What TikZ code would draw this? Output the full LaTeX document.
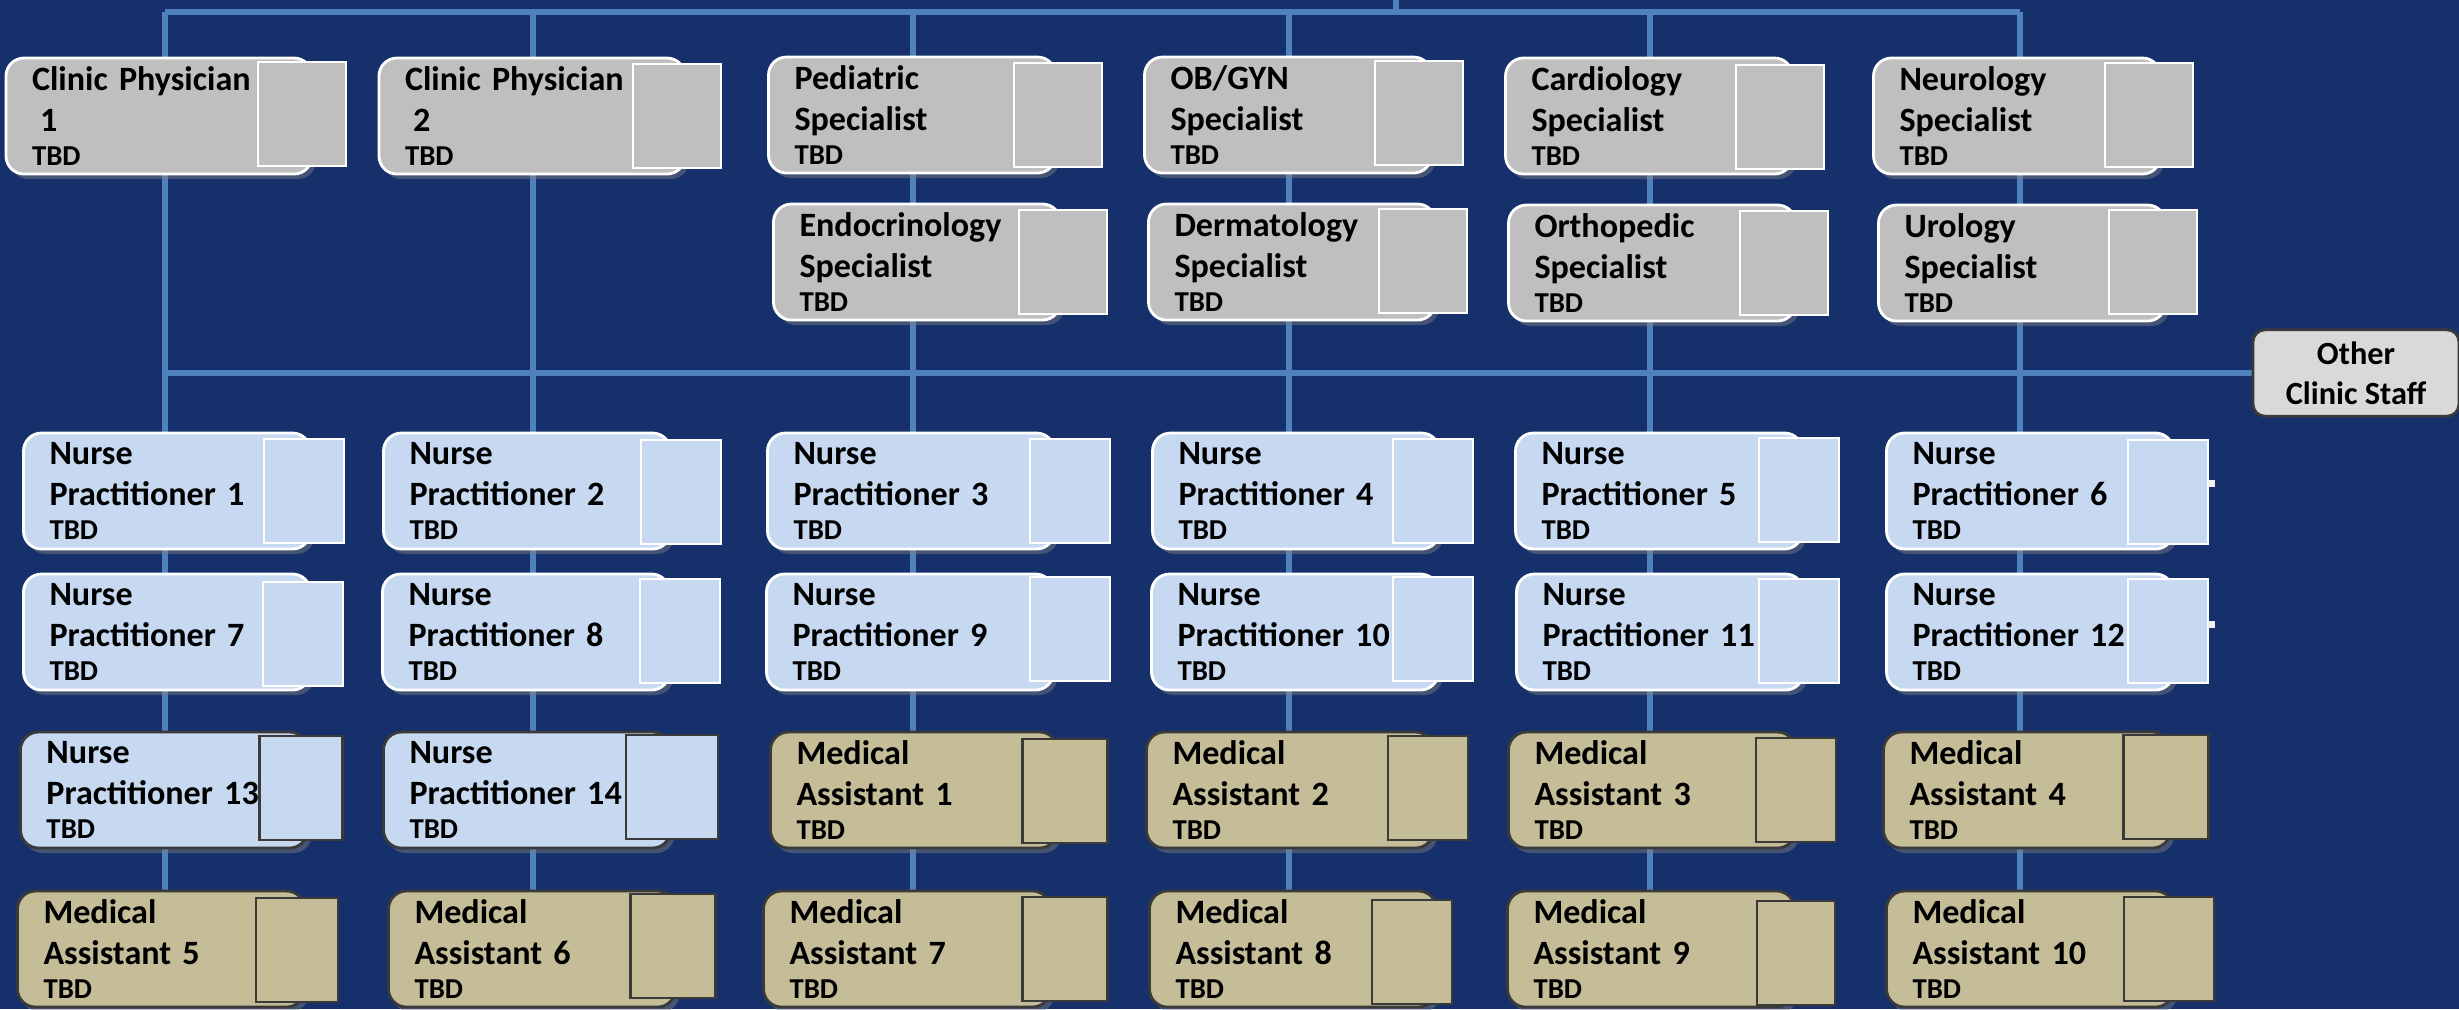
\documentclass[tikz,border=0pt]{standalone}
\usepackage{fontspec}
\setmainfont{Carlito}
\usetikzlibrary{backgrounds,shadows}

\definecolor{navy}{HTML}{15306B}
\definecolor{linkblue}{HTML}{4F81BD}
\definecolor{boxgray}{HTML}{BFBFBF}
\definecolor{npblue}{HTML}{C6D9F1}
\definecolor{matan}{HTML}{C4BD97}
\definecolor{othergray}{HTML}{D9D9D9}
\definecolor{edgedark}{HTML}{3A3A3A}

\newcommand{\tbd}{\\[-2pt]{\fontsize{8.2}{9}\selectfont TBD}}

\begin{document}
\begin{tikzpicture}[
  card/.style={rounded corners=0.18cm, minimum height=1.16cm, text width=2.35cm,
    inner xsep=0.26cm, inner ysep=0pt, align=left, line width=0.8pt,
    font=\bfseries\fontsize{9.7}{11.6}\selectfont,
    drop shadow={shadow xshift=0.04cm, shadow yshift=-0.05cm, opacity=0.45}},
  spec/.style={card, fill=boxgray, draw=white},
  nurse/.style={card, fill=npblue, draw=white},
  asst/.style={card, fill=matan, draw=edgedark},
  photo/.style={minimum height=1.04cm, inner sep=0pt, line width=0.8pt},
  grayphoto/.style={photo, minimum width=0.88cm, fill=boxgray, draw=white},
  bluephoto/.style={photo, minimum width=0.80cm, fill=npblue, draw=white},
  tanphoto/.style={photo, minimum width=0.85cm, fill=matan, draw=edgedark},
  link/.style={draw=linkblue, line width=1.8pt}]

\useasboundingbox (0,0) rectangle (24.59,-10.09);

% physicians and specialists
\node[spec, text width=2.54cm] (cp1) at (1.59,-1.16) {Clinic Physician\\\hspace*{2.3pt}1\tbd};
\node[grayphoto] (cp1p) at (3.02,-1.14) {};
\node[spec, text width=2.54cm] (cp2) at (5.32,-1.16) {Clinic Physician\\\hspace*{2.3pt}2\tbd};
\node[grayphoto] (cp2p) at (6.77,-1.16) {};
\node[spec] (ped) at (9.12,-1.15) {Pediatric\\Specialist\tbd};
\node[grayphoto] (pedp) at (10.58,-1.15) {};
\node[spec] (obgyn) at (12.88,-1.15) {OB/GYN\\Specialist\tbd};
\node[grayphoto] (obgynp) at (14.19,-1.13) {};
\node[spec] (cardio) at (16.49,-1.16) {Cardiology\\Specialist\tbd};
\node[grayphoto] (cardiop) at (17.80,-1.17) {};
\node[spec] (neuro) at (20.17,-1.16) {Neurology\\Specialist\tbd};
\node[grayphoto] (neurop) at (21.49,-1.15) {};

\node[spec] (endo) at (9.17,-2.62) {Endocrinology\\Specialist\tbd};
\node[grayphoto] (endop) at (10.63,-2.62) {};
\node[spec] (derm) at (12.92,-2.62) {Dermatology\\Specialist\tbd};
\node[grayphoto] (dermp) at (14.23,-2.61) {};
\node[spec] (ortho) at (16.52,-2.63) {Orthopedic\\Specialist\tbd};
\node[grayphoto] (orthop) at (17.84,-2.63) {};
\node[spec] (uro) at (20.22,-2.63) {Urology\\Specialist\tbd};
\node[grayphoto] (urop) at (21.53,-2.62) {};

\node[rounded corners=0.12cm, fill=othergray, draw=edgedark, line width=0.8pt,
  minimum width=2.06cm, minimum height=0.78cm, align=center,
  font=\bfseries\fontsize{9.2}{11.4}\selectfont] (other) at (23.56,-3.73) {Other\\Clinic Staff};

% nurse practitioners
\node[nurse] (np1) at (1.67,-4.91) {Nurse\\Practitioner 1\tbd};
\node[bluephoto] (np1p) at (3.04,-4.91) {};
\node[nurse] (np2) at (5.27,-4.91) {Nurse\\Practitioner 2\tbd};
\node[bluephoto] (np2p) at (6.81,-4.92) {};
\node[nurse] (np3) at (9.11,-4.91) {Nurse\\Practitioner 3\tbd};
\node[bluephoto] (np3p) at (10.70,-4.91) {};
\node[nurse] (np4) at (12.96,-4.91) {Nurse\\Practitioner 4\tbd};
\node[bluephoto] (np4p) at (14.33,-4.91) {};
\node[nurse] (np5) at (16.59,-4.91) {Nurse\\Practitioner 5\tbd};
\node[bluephoto] (np5p) at (17.99,-4.90) {};
\node[nurse] (np6) at (20.30,-4.91) {Nurse\\Practitioner 6\tbd};
\node[bluephoto] (np6p) at (21.68,-4.92) {};
\fill[white!88!gray] (22.08,-4.80) rectangle (22.15,-4.87);

\node[nurse] (np7) at (1.67,-6.32) {Nurse\\Practitioner 7\tbd};
\node[bluephoto] (np7p) at (3.03,-6.34) {};
\node[nurse] (np8) at (5.26,-6.32) {Nurse\\Practitioner 8\tbd};
\node[bluephoto] (np8p) at (6.80,-6.31) {};
\node[nurse] (np9) at (9.10,-6.32) {Nurse\\Practitioner 9\tbd};
\node[bluephoto] (np9p) at (10.70,-6.29) {};
\node[nurse] (np10) at (12.95,-6.32) {Nurse\\Practitioner 10\tbd};
\node[bluephoto] (np10p) at (14.33,-6.29) {};
\node[nurse] (np11) at (16.60,-6.32) {Nurse\\Practitioner 11\tbd};
\node[bluephoto] (np11p) at (17.99,-6.31) {};
\node[nurse] (np12) at (20.30,-6.32) {Nurse\\Practitioner 12\tbd};
\node[bluephoto] (np12p) at (21.68,-6.31) {};
\fill[white!88!gray] (22.08,-6.21) rectangle (22.15,-6.28);

\node[nurse, draw=edgedark] (np13) at (1.64,-7.90) {Nurse\\Practitioner 13\tbd};
\node[bluephoto, minimum width=0.83cm, draw=edgedark] (np13p) at (3.01,-7.88) {};
\node[nurse, draw=edgedark] (np14) at (5.27,-7.90) {Nurse\\Practitioner 14\tbd};
\node[bluephoto, minimum width=0.92cm, draw=edgedark] (np14p) at (6.72,-7.87) {};

% medical assistants
\node[asst] (ma1) at (9.14,-7.90) {Medical\\Assistant 1\tbd};
\node[tanphoto] (ma1p) at (10.65,-7.91) {};
\node[asst] (ma2) at (12.90,-7.90) {Medical\\Assistant 2\tbd};
\node[tanphoto, minimum width=0.80cm] (ma2p) at (14.28,-7.88) {};
\node[asst] (ma3) at (16.52,-7.90) {Medical\\Assistant 3\tbd};
\node[tanphoto, minimum width=0.80cm] (ma3p) at (17.96,-7.90) {};
\node[asst] (ma4) at (20.27,-7.90) {Medical\\Assistant 4\tbd};
\node[tanphoto] (ma4p) at (21.66,-7.87) {};

\node[asst] (ma5) at (1.61,-9.49) {Medical\\Assistant 5\tbd};
\node[tanphoto, minimum width=0.82cm] (ma5p) at (2.97,-9.50) {};
\node[asst] (ma6) at (5.32,-9.49) {Medical\\Assistant 6\tbd};
\node[tanphoto] (ma6p) at (6.73,-9.46) {};
\node[asst] (ma7) at (9.07,-9.49) {Medical\\Assistant 7\tbd};
\node[tanphoto] (ma7p) at (10.65,-9.49) {};
\node[asst] (ma8) at (12.93,-9.49) {Medical\\Assistant 8\tbd};
\node[tanphoto, minimum width=0.80cm] (ma8p) at (14.12,-9.52) {};
\node[asst] (ma9) at (16.51,-9.49) {Medical\\Assistant 9\tbd};
\node[tanphoto, minimum width=0.78cm] (ma9p) at (17.96,-9.53) {};
\node[asst] (ma10) at (20.30,-9.49) {Medical\\Assistant 10\tbd};
\node[tanphoto, minimum width=0.90cm] (ma10p) at (21.69,-9.49) {};

% lines behind the boxes
\begin{scope}[on background layer]
\fill[navy] (0,0) rectangle (24.59,-10.09);

\coordinate (top) at (13.96,0);
\coordinate (t1) at (1.65,-0.12);
\coordinate (t2) at (5.33,-0.12);
\coordinate (t3) at (9.13,-0.12);
\coordinate (t4) at (12.89,-0.12);
\coordinate (t5) at (16.50,-0.12);
\coordinate (t6) at (20.20,-0.12);

\draw[link] (top) -- (top |- t1);
\draw[link] (t1) -- (t6);
\draw[link] (t1) -- (t1 |- ma5);
\draw[link] (t2) -- (t2 |- ma6);
\draw[link] (t3) -- (t3 |- ma7);
\draw[link] (t4) -- (t4 |- ma8);
\draw[link] (t5) -- (t5 |- ma9);
\draw[link] (t6) -- (t6 |- ma10);

\draw[link] (t1 |- other) -- (other);
\end{scope}

\end{tikzpicture}
\end{document}
